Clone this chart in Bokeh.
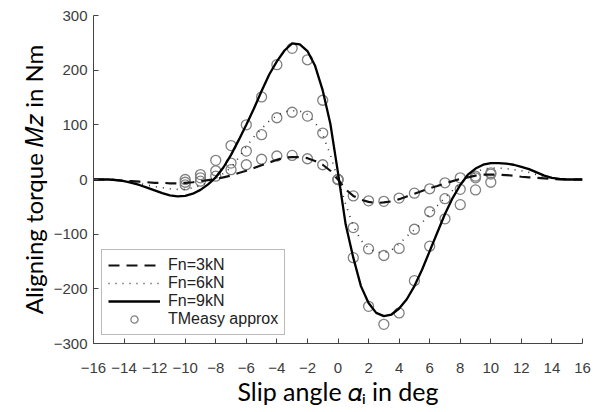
from bokeh.plotting import figure
from bokeh.models import Range1d, FixedTicker, Legend, LegendItem, ColumnDataSource
from bokeh.embed import file_html
from bokeh.resources import INLINE

# ---- data ----
slip_line = [i / 2 for i in range(-32, 33)]  # -16 ... 16 deg, 0.5 deg steps

mz_3kN = [0, 0, 0, -1, -2, -3, -4, -5, -6, -6, -7, -7, -6,
          -5, -3, -1, 1, 4, 7, 12, 16, 21, 26, 31, 36, 40, 41, 41, 39, 34, 27, 16,
          0,
          -18, -30, -37, -41, -43, -42, -40, -36, -31, -26, -21, -16, -12, -7, -3, 1,
          4, 7, 9, 9, 9, 8, 7, 5, 4, 3, 2, 1, 0, 0, 0, 0]

mz_6kN = [0, 0, 0, -1, -2, -4, -7, -10, -13, -15, -17, -18, -18,
          -15, -11, -5, 2, 11, 22, 40, 60, 78, 93, 107, 117, 124, 126, 125, 119, 104, 82, 45,
          0,
          -45, -85, -111, -126, -133, -134, -129, -118, -104, -92, -79, -63, -48, -33, -20, -8,
          4, 14, 19, 21, 21, 20, 18, 16, 13, 9, 5, 2, 1, 0, 0, 0]

mz_9kN = [0, 0, 0, -1, -3, -6, -10, -15, -20, -25, -29, -31, -30,
          -26, -19, -9, 4, 22, 45, 72, 100, 130, 162, 192, 216, 236, 249, 247, 235, 208, 163, 102,
          12,
          -82, -143, -195, -226, -244, -250, -247, -236, -219, -195, -165, -131, -97, -63, -34, -10,
          9, 20, 27, 30, 30, 29, 27, 23, 19, 13, 7, 3, 1, 0, 0, 0]

slip_tm = [-10, -9, -8, -7, -6, -5, -4, -3, -2, -1, 0, 1, 2, 3, 4, 5, 6, 7, 8, 9, 10]
tm_3kN = [-10, -3, 6, 18, 27, 37, 43, 44, 38, 27, 0, -30, -39, -40, -34, -25, -17, -6, 3, 6, 10]
tm_6kN = [-5, 3, 16, 30, 52, 82, 113, 123, 116, 85, 0, -88, -127, -139, -126, -91, -59, -35, -18, 3, 12]
tm_9kN = [0, 9, 35, 62, 100, 151, 210, 240, 219, 145, 0, -143, -232, -265, -244, -185, -122, -72, -46, -19, -5]

x_ticks = [-16, -14, -12, -10, -8, -6, -4, -2, 0, 2, 4, 6, 8, 10, 12, 14, 16]
y_ticks = [-300, -200, -100, 0, 100, 200, 300]

series_names = ["Fn=3kN", "Fn=6kN", "Fn=9kN", "TMeasy approx"]
x_label = "Slip angle \U0001D6FC\u1D62 in deg"
y_label = "Aligning torque \U0001D440\U0001D467 in Nm"

# ---- figure ----
p = figure(width=602, height=412, x_range=Range1d(-16, 16), y_range=Range1d(-300, 300),
           output_backend="svg", toolbar_location=None,
           min_border_left=93, min_border_right=20, min_border_top=15, min_border_bottom=69)
p.outline_line_color = None
p.grid.visible = False
p.background_fill_color = "white"
p.border_fill_color = "white"

tick_font = "Liberation Sans"
for ax in (p.xaxis[0], p.yaxis[0]):
    ax.axis_line_color = "#444444"
    ax.axis_line_width = 1
    ax.major_tick_line_color = "#444444"
    ax.major_tick_in = 5
    ax.major_tick_out = 0
    ax.minor_tick_line_color = None
    ax.major_label_text_font = tick_font
    ax.major_label_text_font_size = "15px"
    ax.major_label_text_color = "#3c3c3c"
    ax.axis_label_text_font = "Lato"
    ax.axis_label_text_font_style = "normal"
    ax.axis_label_text_color = "#000000"

p.xaxis.axis_label_text_font_size = "25px"
p.yaxis.axis_label_text_font_size = "24px"
p.xaxis.ticker = FixedTicker(ticks=x_ticks)
p.yaxis.ticker = FixedTicker(ticks=y_ticks)
p.xaxis.major_label_overrides = {t: str(t).replace("-", "\u2212") for t in x_ticks}
p.yaxis.major_label_overrides = {t: str(t).replace("-", "\u2212") for t in y_ticks}
p.xaxis.major_label_standoff = 19
p.yaxis.major_label_standoff = 6
p.xaxis.axis_label = x_label
p.yaxis.axis_label = y_label
p.xaxis.axis_label_standoff = 0
p.yaxis.axis_label_standoff = 3

src_line = ColumnDataSource(dict(x=slip_line, a=mz_3kN, b=mz_6kN, c=mz_9kN))
src_tm = ColumnDataSource(dict(x=slip_tm, a=tm_3kN, b=tm_6kN, c=tm_9kN))

circ_kw = dict(size=10, fill_color=None, line_color="#808080", line_width=1.3)
r_tm3 = p.scatter("x", "a", source=src_tm, **circ_kw)
r_tm6 = p.scatter("x", "b", source=src_tm, **circ_kw)
r_tm9 = p.scatter("x", "c", source=src_tm, **circ_kw)

r3 = p.line("x", "a", source=src_line, line_color="#111111", line_width=2.2, line_dash="11 7")
r6 = p.line("x", "b", source=src_line, line_color="#333333", line_width=1.6, line_dash="1 6")
r9 = p.line("x", "c", source=src_line, line_color="#000000", line_width=2.3)

legend = Legend(items=[LegendItem(label=series_names[0], renderers=[r3]),
                       LegendItem(label=series_names[1], renderers=[r6]),
                       LegendItem(label=series_names[2], renderers=[r9]),
                       LegendItem(label=series_names[3], renderers=[r_tm3])],
                location=(8, 8))
legend.label_text_font = tick_font
legend.label_text_font_size = "16px"
legend.label_text_color = "#222222"
legend.glyph_width = 52
legend.glyph_height = 18
legend.label_height = 18
legend.label_standoff = 8
legend.spacing = 0
legend.padding = 6
legend.margin = 0
legend.border_line_color = "#777777"
legend.border_line_width = 1
legend.background_fill_color = "white"
legend.background_fill_alpha = 1
p.add_layout(legend, "center")

open("out.html", "w").write(file_html(p, INLINE))
